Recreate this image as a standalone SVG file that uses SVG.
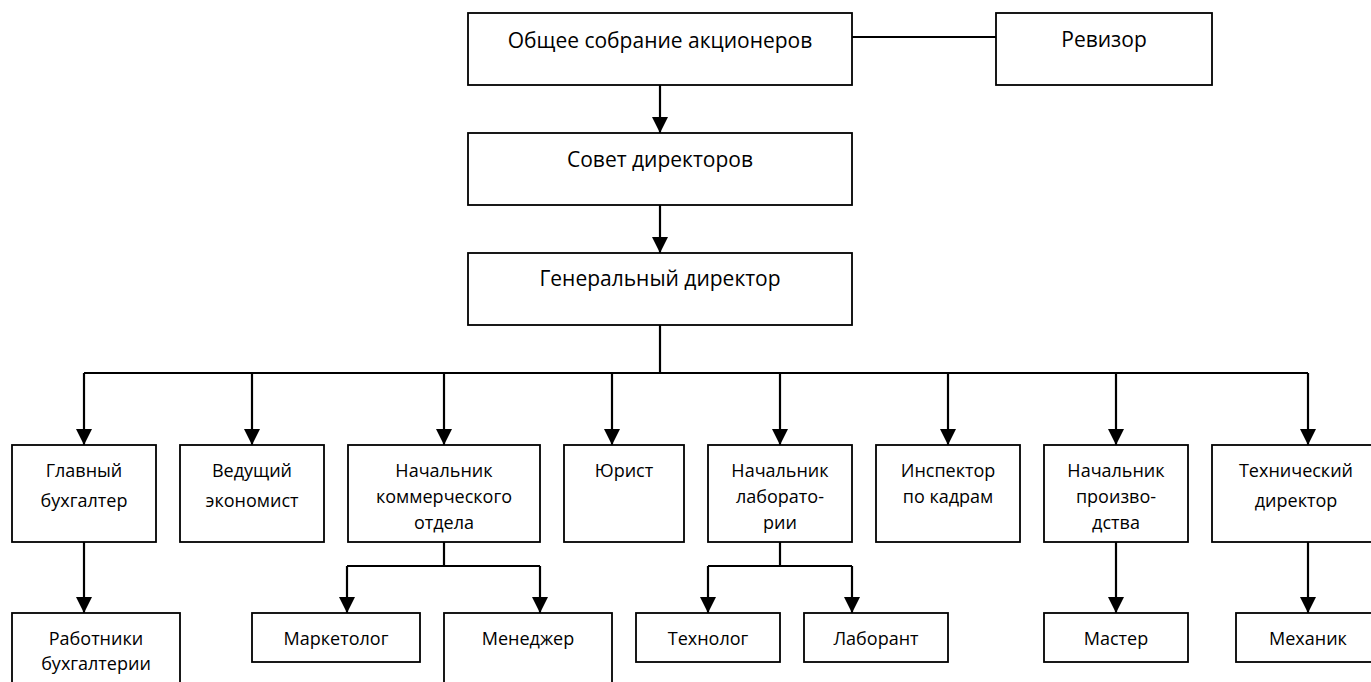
<svg xmlns="http://www.w3.org/2000/svg" width="1371" height="682" viewBox="0 0 1371 682">
<style>
.box{fill:#fff;stroke:#000;stroke-width:1.8}
.t{font-family:"Open Sans","Noto Sans","DejaVu Sans",sans-serif;font-size:18px;fill:#000;text-anchor:middle}
.tl{font-size:21px}
.c{fill:none;stroke:#000;stroke-width:2.2}
</style>
<defs>
<marker id="ah" viewBox="0 0 16 16" refX="16" refY="8" markerWidth="16" markerHeight="16" markerUnits="userSpaceOnUse" orient="auto">
<path d="M0,0 L16,8 L0,16 z" fill="#000"/>
</marker>
</defs>
<rect width="1371" height="682" fill="#fff"/>
<g id="connectors">
<line class="c" x1="852" y1="37" x2="996" y2="37"/>
<line class="c" x1="660" y1="85" x2="660" y2="133" marker-end="url(#ah)"/>
<line class="c" x1="660" y1="205" x2="660" y2="253" marker-end="url(#ah)"/>
<line class="c" x1="660" y1="325" x2="660" y2="373"/>
<line class="c" x1="84" y1="373" x2="1308" y2="373"/>
<line class="c" x1="84" y1="373" x2="84" y2="445" marker-end="url(#ah)"/>
<line class="c" x1="252" y1="373" x2="252" y2="445" marker-end="url(#ah)"/>
<line class="c" x1="444" y1="373" x2="444" y2="445" marker-end="url(#ah)"/>
<line class="c" x1="612" y1="373" x2="612" y2="445" marker-end="url(#ah)"/>
<line class="c" x1="780" y1="373" x2="780" y2="445" marker-end="url(#ah)"/>
<line class="c" x1="948" y1="373" x2="948" y2="445" marker-end="url(#ah)"/>
<line class="c" x1="1116" y1="373" x2="1116" y2="445" marker-end="url(#ah)"/>
<line class="c" x1="1308" y1="373" x2="1308" y2="445" marker-end="url(#ah)"/>
<line class="c" x1="84" y1="542" x2="84" y2="613" marker-end="url(#ah)"/>
<line class="c" x1="444" y1="542" x2="444" y2="566"/>
<line class="c" x1="347" y1="566" x2="540" y2="566"/>
<line class="c" x1="347" y1="566" x2="347" y2="613" marker-end="url(#ah)"/>
<line class="c" x1="540" y1="566" x2="540" y2="613" marker-end="url(#ah)"/>
<line class="c" x1="780" y1="542" x2="780" y2="566"/>
<line class="c" x1="708" y1="566" x2="852" y2="566"/>
<line class="c" x1="708" y1="566" x2="708" y2="613" marker-end="url(#ah)"/>
<line class="c" x1="852" y1="566" x2="852" y2="613" marker-end="url(#ah)"/>
<line class="c" x1="1116" y1="542" x2="1116" y2="613" marker-end="url(#ah)"/>
<line class="c" x1="1308" y1="542" x2="1308" y2="613" marker-end="url(#ah)"/>
</g>
<g id="n-sobranie"><rect class="box" x="468" y="13" width="384" height="72"/><text class="t tl" x="660" y="48">Общее собрание акционеров</text></g>
<g id="n-revizor"><rect class="box" x="996" y="13" width="216" height="72"/><text class="t tl" x="1104" y="47">Ревизор</text></g>
<g id="n-sovet"><rect class="box" x="468" y="133" width="384" height="72"/><text class="t tl" x="660" y="167">Совет директоров</text></g>
<g id="n-gendir"><rect class="box" x="468" y="253" width="384" height="72"/><text class="t tl" x="660" y="286">Генеральный директор</text></g>
<g id="n-glavbuh"><rect class="box" x="12" y="445" width="144" height="97"/><text class="t" x="84" y="477">Главный</text><text class="t" x="84" y="507">бухгалтер</text></g>
<g id="n-ekonomist"><rect class="box" x="180" y="445" width="144" height="97"/><text class="t" x="252" y="477">Ведущий</text><text class="t" x="252" y="507">экономист</text></g>
<g id="n-kommerch"><rect class="box" x="348" y="445" width="192" height="97"/><text class="t" x="444" y="477">Начальник</text><text class="t" x="444" y="503">коммерческого</text><text class="t" x="444" y="529">отдела</text></g>
<g id="n-yurist"><rect class="box" x="564" y="445" width="120" height="97"/><text class="t" x="624" y="477">Юрист</text></g>
<g id="n-lab"><rect class="box" x="708" y="445" width="144" height="97"/><text class="t" x="780" y="477">Начальник</text><text class="t" x="780" y="503">лаборато-</text><text class="t" x="780" y="529">рии</text></g>
<g id="n-inspektor"><rect class="box" x="876" y="445" width="144" height="97"/><text class="t" x="948" y="477">Инспектор</text><text class="t" x="948" y="503">по кадрам</text></g>
<g id="n-proizv"><rect class="box" x="1044" y="445" width="144" height="97"/><text class="t" x="1116" y="477">Начальник</text><text class="t" x="1116" y="503">произво-</text><text class="t" x="1116" y="529">дства</text></g>
<g id="n-techdir"><rect class="box" x="1212" y="445" width="168" height="97"/><text class="t" x="1296" y="477">Технический</text><text class="t" x="1296" y="507">директор</text></g>
<g id="n-rabotniki"><rect class="box" x="12" y="613" width="168" height="80"/><text class="t" x="96" y="645">Работники</text><text class="t" x="96" y="670">бухгалтерии</text></g>
<g id="n-marketolog"><rect class="box" x="252" y="613" width="168" height="49"/><text class="t" x="336" y="645">Маркетолог</text></g>
<g id="n-menedzher"><rect class="box" x="444" y="613" width="168" height="80"/><text class="t" x="528" y="645">Менеджер</text></g>
<g id="n-tehnolog"><rect class="box" x="636" y="613" width="144" height="49"/><text class="t" x="708" y="645">Технолог</text></g>
<g id="n-laborant"><rect class="box" x="804" y="613" width="144" height="49"/><text class="t" x="876" y="645">Лаборант</text></g>
<g id="n-master"><rect class="box" x="1044" y="613" width="144" height="49"/><text class="t" x="1116" y="645">Мастер</text></g>
<g id="n-mehanik"><rect class="box" x="1236" y="613" width="144" height="49"/><text class="t" x="1308" y="645">Механик</text></g>
</svg>
